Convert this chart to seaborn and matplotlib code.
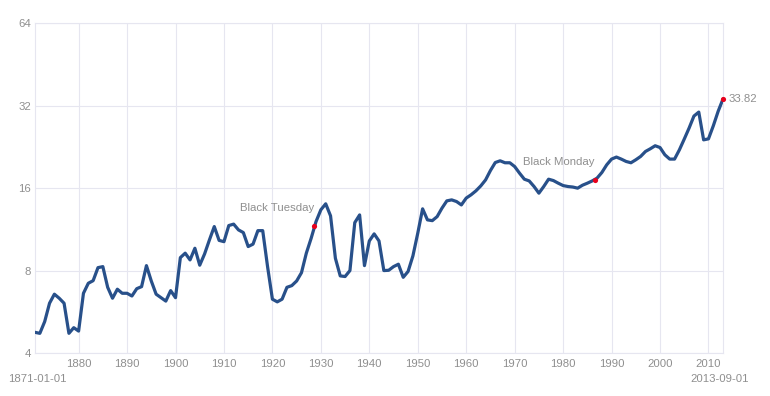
import numpy as np
import pandas as pd
import matplotlib
matplotlib.use("Agg")
import matplotlib.pyplot as plt
import seaborn as sns

# yearly values (log2 scale)
years = list(range(1871, 2014))
values = [
    4.77, 4.73, 5.22, 6.09, 6.57, 6.35, 6.09, 4.73, 4.96, 4.82,        # 1871-1880
    6.62, 7.20, 7.36, 8.21, 8.28, 6.96, 6.35, 6.85, 6.62, 6.62,        # 1881-1890
    6.47, 6.88, 7.00, 8.35, 7.34, 6.57, 6.38, 6.20, 6.77, 6.38,        # 1891-1900
    8.93, 9.27, 8.76, 9.66, 8.38, 9.21, 10.36, 11.59, 10.32, 10.21,    # 1901-1910
    11.69, 11.83, 11.27, 11.02, 9.80, 10.00, 11.20, 11.20, 8.28, 6.30, # 1911-1920
    6.16, 6.30, 6.96, 7.06, 7.34, 7.87, 9.27, 10.51, 12.08, 13.34,     # 1921-1930
    14.03, 12.68, 8.88, 7.66, 7.62, 8.01, 11.98, 12.78, 8.35, 10.27,   # 1931-1940
    10.90, 10.27, 8.01, 8.03, 8.28, 8.45, 7.57, 7.95, 9.06, 10.96,     # 1941-1950
    13.45, 12.26, 12.18, 12.60, 13.53, 14.38, 14.50, 14.30, 13.90, 14.72,  # 1951-1960
    15.13, 15.64, 16.30, 17.15, 18.55, 19.84, 20.13, 19.80, 19.80, 19.18,  # 1961-1970
    18.15, 17.25, 17.00, 16.22, 15.34, 16.22, 17.25, 17.05, 16.68, 16.35,  # 1971-1980
    16.22, 16.15, 16.00, 16.40, 16.68, 17.00, 17.40, 18.25, 19.46, 20.42,  # 1981-1990
    20.77, 20.42, 20.02, 19.80, 20.30, 20.88, 21.77, 22.27, 22.84, 22.50,  # 1991-2000
    21.17, 20.42, 20.42, 22.07, 24.15, 26.49, 29.30, 30.30, 24.00, 24.20,  # 2001-2010
    27.00, 30.50, 33.82,                                                   # 2011-2013
]

event_labels = ["Black Tuesday", "Black Monday"]
event_years = [1928.65, 1986.58]
event_values = [11.6, 17.1]

line_color = "#28508a"
grid_color = "#e6e6f0"
text_color = "#8f8f8f"

sns.set_style("white")
plt.rcParams["font.family"] = ["Liberation Sans", "DejaVu Sans"]

fig = plt.figure(figsize=(7.7, 3.96), dpi=100)
ax = fig.add_axes([35 / 770, (396 - 353.3) / 396, (723 - 35) / 770, (353.3 - 23) / 396])

df = pd.DataFrame({"year": years, "value": values})
sns.lineplot(data=df, x="year", y="value", color=line_color, linewidth=2.3, ax=ax, zorder=3)

ax.set_yscale("log", base=2)
ax.set_ylim(4, 64)
ax.set_xlim(1871, 2013)
ax.set_yticks([4, 8, 16, 32, 64])
ax.set_yticklabels(["4", "8", "16", "32", "64"])
ax.minorticks_off()
ax.set_xticks(range(1880, 2011, 10))
ax.set_xticklabels([str(y) for y in range(1880, 2011, 10)])
ax.grid(True, color=grid_color, linewidth=0.8)
ax.tick_params(length=0, labelsize=8.2, labelcolor=text_color)
ax.tick_params(axis="y", pad=3)
ax.tick_params(axis="x", pad=4)
for s in ax.spines.values():
    s.set_color(grid_color)
    s.set_linewidth(0.8)
ax.set_xlabel("")
ax.set_ylabel("")

# event markers
ax.scatter(event_years, event_values, color="#e8001c", s=14, zorder=4, linewidths=0)
for lab, x, y in zip(event_labels, event_years, event_values):
    ax.annotate(lab, (x, y), xytext=(0, 18), textcoords="offset pixels",
                ha="right", va="center", fontsize=8.2, color=text_color)

# last value
ax.scatter([years[-1]], [values[-1]], color="#e8001c", s=14, zorder=4, linewidths=0, clip_on=False)
ax.annotate(f"{values[-1]:.2f}", (years[-1], values[-1]), xytext=(6, 0), textcoords="offset pixels",
            ha="left", va="center", fontsize=8.2, color=text_color)

fig.text(8 / 770, 1 - 379 / 396, "1871-01-01", ha="left", va="center", fontsize=8.2, color=text_color)
fig.text(749 / 770, 1 - 379 / 396, "2013-09-01", ha="right", va="center", fontsize=8.2, color=text_color)

fig.savefig("out.png", dpi=100)
